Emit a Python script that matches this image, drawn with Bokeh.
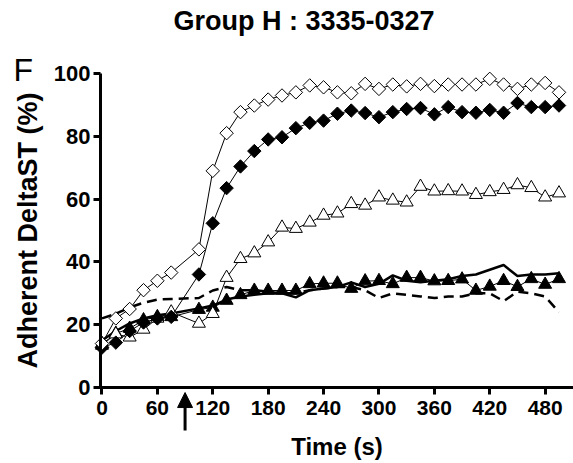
import numpy as np
from bokeh.plotting import figure
from bokeh.models import Arrow, NormalHead, FixedTicker, Range1d, Label
from bokeh.embed import file_html
from bokeh.resources import INLINE

# ---- data ----
times = [0, 15, 30, 45, 60, 75] + list(range(105, 496, 15))
open_diamond = [14, 22, 25, 31, 34, 36.6,
                44, 69, 81, 87.7, 89.8, 91.7, 93, 94, 96.2, 95.6, 94, 93.7, 96.7, 95.1,
                96.5, 95.9, 96.7, 96, 96.5, 96.5, 96.5, 98.3, 96.5, 95.1, 96.5, 97, 94]
filled_diamond = [12.7, 14.3, 18, 20.7, 22, 22.5,
                  36, 52.3, 63.5, 70.4, 75.3, 79, 79.7, 82.6, 84.3, 85, 87.2, 88.2, 87.4, 86.1,
                  87.7, 88.7, 89, 87, 89.3, 87.7, 87.5, 88.4, 87.5, 90.6, 89.3, 89.3, 89.8]
open_triangle = [14, 17, 16, 18.5, 22, 24,
                 20.4, 23.5, 35, 41, 42.8, 46.3, 51, 50.6, 52.6, 54.8, 55.5, 58.5, 58, 60.6,
                 59.6, 59, 64, 62.5, 62.6, 62.5, 61.4, 62.3, 63, 64.5, 63.6, 60.6, 61.9]
filled_triangle = [13.4, 17.2, 18.8, 21.5, 22.5, 22.5,
                   24.8, 25.5, 27.7, 29.5, 30.9, 30.9, 30.9, 30.9, 33, 33.2, 33.2, 31.5, 33.9, 34,
                   33, 35, 35, 33.9, 34, 34.5, 30.9, 32.2, 34, 32.1, 34.6, 32.8, 34.6]
solid_line = [15, 18, 20.4, 22, 23, 23.6,
              25.2, 26.1, 28, 29, 29.5, 30, 30, 28.7, 31, 31.5, 32, 33.5, 32, 33,
              35.7, 34, 33.5, 34, 34.5, 35.5, 36, 37.5, 39, 35.5, 36, 36, 36.4]
dashed_line = [22, 23.5, 25.5, 27, 28, 28.2,
               28.5, 30.9, 32, 31, 31, 30.5, 30, 30, 31, 31.5, 32, 32, 31, 28.5,
               30, 29.5, 29, 28.5, 29, 29, 30, 30, 27.5, 30.5, 30, 29, 24]
x_ticks = [0, 60, 120, 180, 240, 300, 360, 420, 480]
y_ticks = [0, 20, 40, 60, 80, 100]
arrow_time = 90

FONT = "Liberation Sans"

# plot frame spans the whole canvas below the title; axes are fixed at x=-1.6 / y=0
X0, X1 = -109.9, 510.7
Y0, Y1 = -24.2, 111.15
p = figure(width=573, height=463, output_backend="svg", toolbar_location=None,
           x_range=Range1d(X0, X1), y_range=Range1d(Y0, Y1),
           min_border_left=0, min_border_right=0, min_border_top=38, min_border_bottom=0)
p.outline_line_color = None
p.grid.visible = False

p.title.text = "Group H : 3335-0327"
p.title.text_font = FONT
p.title.text_font_style = "bold"
p.title.text_font_size = "27px"
p.title.text_color = "black"
p.title.align = "left"
p.title.offset = 173
p.title.standoff = 6

for ax in (p.xaxis[0], p.yaxis[0]):
    ax.axis_line_width = 3
    ax.axis_line_color = "black"
    ax.major_tick_line_width = 3
    ax.major_tick_line_color = "black"
    ax.major_tick_out = 7
    ax.major_tick_in = 0
    ax.minor_tick_out = 0
    ax.minor_tick_in = 0
    ax.major_label_text_font = FONT
    ax.major_label_text_font_style = "bold"
    ax.major_label_text_color = "black"
    ax.axis_label_text_font = FONT
    ax.axis_label_text_font_style = "bold"
    ax.axis_label_text_color = "black"

p.xaxis.fixed_location = 0
p.yaxis.fixed_location = -1.6
p.xaxis.bounds = (-1.6, X1)
p.yaxis.bounds = (0, 100)
p.xaxis.ticker = FixedTicker(ticks=x_ticks)
p.yaxis.ticker = FixedTicker(ticks=y_ticks)
p.xaxis.axis_label = "Time (s)"
p.yaxis.axis_label = "Adherent DeltaST (%)"
p.xaxis.major_label_text_font_size = "21px"
p.yaxis.major_label_text_font_size = "22px"
p.xaxis.axis_label_text_font_size = "24px"
p.yaxis.axis_label_text_font_size = "27px"
p.xaxis.major_label_standoff = 6
p.yaxis.major_label_standoff = 3
p.xaxis.axis_label_standoff = 15
p.yaxis.axis_label_standoff = 8

# thick lines without markers
p.line(times, solid_line, line_color="black", line_width=2.5)
p.line(times, dashed_line, line_color="black", line_width=2.5, line_dash="10 6")

# marker series with thin connecting lines
p.line(times, filled_triangle, line_color="black", line_width=1)
p.scatter(times, filled_triangle, marker="triangle", size=13,
          fill_color="black", line_color="black")
p.line(times, open_triangle, line_color="black", line_width=1)
p.scatter(times, open_triangle, marker="triangle", size=13,
          fill_color="white", line_color="black", line_width=1)
p.line(times, filled_diamond, line_color="black", line_width=1)
p.scatter(times, filled_diamond, marker="square", angle=np.pi / 4, size=9.5,
          fill_color="black", line_color="black")
p.line(times, open_diamond, line_color="black", line_width=1)
p.scatter(times, open_diamond, marker="square", angle=np.pi / 4, size=9.5,
          fill_color="white", line_color="black", line_width=1)

# arrow marking addition time
p.add_layout(Arrow(end=NormalHead(size=15, fill_color="black", line_color="black"),
                   x_start=arrow_time, y_start=-13.7, x_end=arrow_time, y_end=-1.6,
                   line_width=3, line_color="black"))

# panel letter
p.add_layout(Label(x=-95.9, y=100.96, text="F", text_font=FONT,
                   text_font_size="32px", text_color="black",
                   text_align="left", text_baseline="alphabetic"))

open("out.html", "w").write(file_html(p, INLINE))
